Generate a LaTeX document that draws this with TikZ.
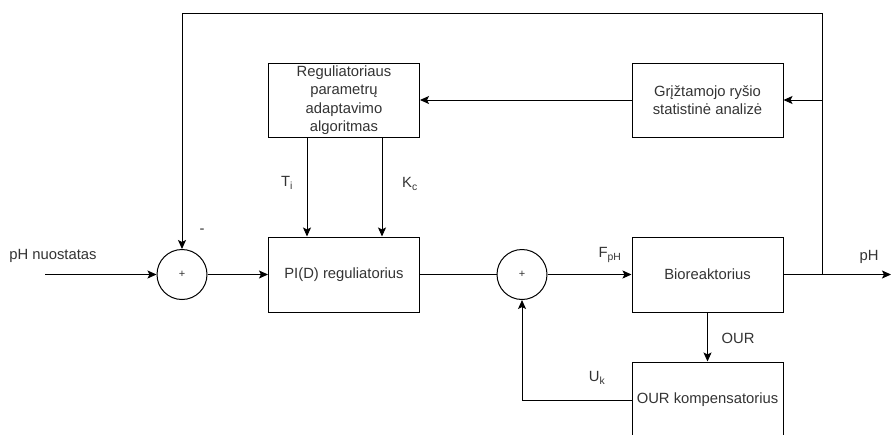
\documentclass[tikz,border=0pt]{standalone}
\usepackage{fontspec}
\setmainfont{Liberation Sans}
\usetikzlibrary{arrows.meta}

\begin{document}
\begin{tikzpicture}
		[x=1pt, y=-1pt,
		font=\fontsize{14.8}{18.5}\selectfont, text=black!80,
		block/.style ={rectangle, draw=black, line width=1pt, minimum width=151pt, minimum height=75pt, align=center, inner sep=2pt},
		sum/.style ={circle, draw=black, line width=1pt, minimum size=50pt, inner sep=0pt, font=\fontsize{11}{11}\selectfont},
		line/.style ={draw, line width=1pt, -{Stealth[length=9pt,width=8pt,inset=2pt]}},
		wire/.style ={draw, line width=1pt},
		]

		\useasboundingbox (0,0) rectangle (891,434);
		\clip (0,0) rectangle (891,434);

		\draw (182,274.5) node[sum] (S1) {+};
		\draw (344,274.5) node[block] (R1) {PI(D) reguliatorius};
		\draw (344,100) node[block, minimum height=74pt] (R2) {Reguliatoriaus\\parametrų\\adaptavimo\\algoritmas};
		\draw (522,274.5) node[sum] (S2) {+};
		\draw (707.5,274.5) node[block] (B1) {Bioreaktorius};
		\draw (707.5,100) node[block, minimum height=74pt] (B2) {Grįžtamojo ryšio\\statistinė analizė};
		\draw (707.5,400) node[block, minimum height=76pt] (B3) {OUR kompensatorius};

		\coordinate (IN) at (45,274.5);
		\coordinate (OUT) at (891,274.5);
		\coordinate (TAP) at (822,274.5);
		\coordinate (TOP) at (822,13);
		\coordinate (FB) at (822,100);

		% signal labels
		\node at (53,256) {pH nuostatas};
		\node at (202,231) {-};
		\node at (287,183) {T\textsubscript{i}};
		\node at (410,184) {K\textsubscript{c}};
		\node at (610,255) {F\textsubscript{pH}};
		\node at (869,257) {pH};
		\node at (738,338) {OUR};
		\node at (597,378) {U\textsubscript{k}};

		\path[line]
		(IN) -- (S1);
		\path[line] (S1) -- (R1);
		\path[wire] (R1) -- (S2);
		\path[line] (S2) -- (B1);
		\path[line] (B1) -- (OUT);
		\path[line] (TAP) -- (TOP) -| (S1);
		\path[line] (FB) -- (B2);
		\path[line] (B2) -- (R2);
		\path[line] ([xshift=-37pt]R2.south) -- ([xshift=-37pt]R1.north);
		\path[line] ([xshift=38pt]R2.south) -- ([xshift=38pt]R1.north);
		\path[line] (B1) -- (B3);
		\path[line] (B3.west) -| (S2.south);
	\end{tikzpicture}
\end{document}
